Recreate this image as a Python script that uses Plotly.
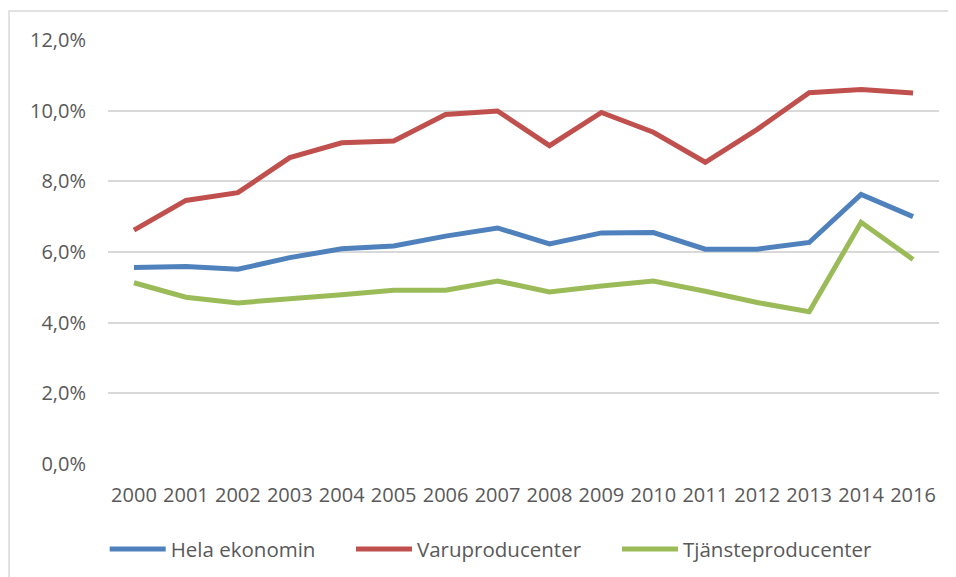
import plotly.graph_objects as go

years = ["2000", "2001", "2002", "2003", "2004", "2005", "2006", "2007",
         "2008", "2009", "2010", "2011", "2012", "2013", "2014", "2016"]
hela = [5.56, 5.59, 5.51, 5.84, 6.09, 6.17, 6.45, 6.68,
        6.23, 6.54, 6.55, 6.08, 6.08, 6.27, 7.63, 7.00]
varu = [6.62, 7.46, 7.68, 8.67, 9.09, 9.14, 9.89, 9.99,
        9.01, 9.95, 9.39, 8.54, 9.47, 10.51, 10.60, 10.50]
tjanste = [5.13, 4.72, 4.56, 4.66, 4.79, 4.92, 4.92, 5.18,
           4.87, 5.04, 5.18, 4.89, 4.57, 4.31, 6.84, 5.79]

series = [("Hela ekonomin", hela, "#4F81BD", "legend"),
          ("Varuproducenter", varu, "#C0504D", "legend2"),
          ("Tjänsteproducenter", tjanste, "#9BBB59", "legend3")]

fig = go.Figure()
for name, vals, col, lg in series:
    fig.add_trace(go.Scatter(x=years, y=vals, name=name, mode="lines", legend=lg,
                             line=dict(color=col, width=5)))

font = dict(family="Open Sans, sans-serif", size=20, color="#595959")
lfont = dict(family="Open Sans, sans-serif", size=20.5, color="#595959")


def leg(x):
    return dict(orientation="h", x=x, y=-0.154, xanchor="left", yanchor="top",
                font=lfont, itemwidth=56, bgcolor="rgba(0,0,0,0)")


fig.update_layout(
    width=948, height=569,
    margin=dict(l=100, r=17, t=32, b=113, pad=0, autoexpand=False),
    paper_bgcolor="white", plot_bgcolor="white",
    separators=", ",
    font=font,
    showlegend=True,
    legend=leg(-0.004),
    legend2=leg(0.2924),
    legend3=leg(0.6125),
    xaxis=dict(type="category", range=[-0.5, 15.5], automargin=False,
               showgrid=False, zeroline=False, showline=False,
               ticks="", tickangle=0, ticklabelstandoff=17, tickfont=font),
    yaxis=dict(range=[0, 12], dtick=2, tick0=0, tickformat=".1f", ticksuffix="%",
               automargin=False,
               showgrid=True, gridcolor="#D9D9D9", gridwidth=1.5, zeroline=False,
               showline=False, ticks="", ticklabelstandoff=21, tickfont=font),
    shapes=[dict(type="rect", xref="paper", yref="paper",
                 x0=-0.1191, x1=1.05, y0=-0.3, y1=1.0684,
                 line=dict(color="#D9D9D9", width=1.5), fillcolor="rgba(0,0,0,0)",
                 layer="below")],
)

fig.write_html("out.html")
